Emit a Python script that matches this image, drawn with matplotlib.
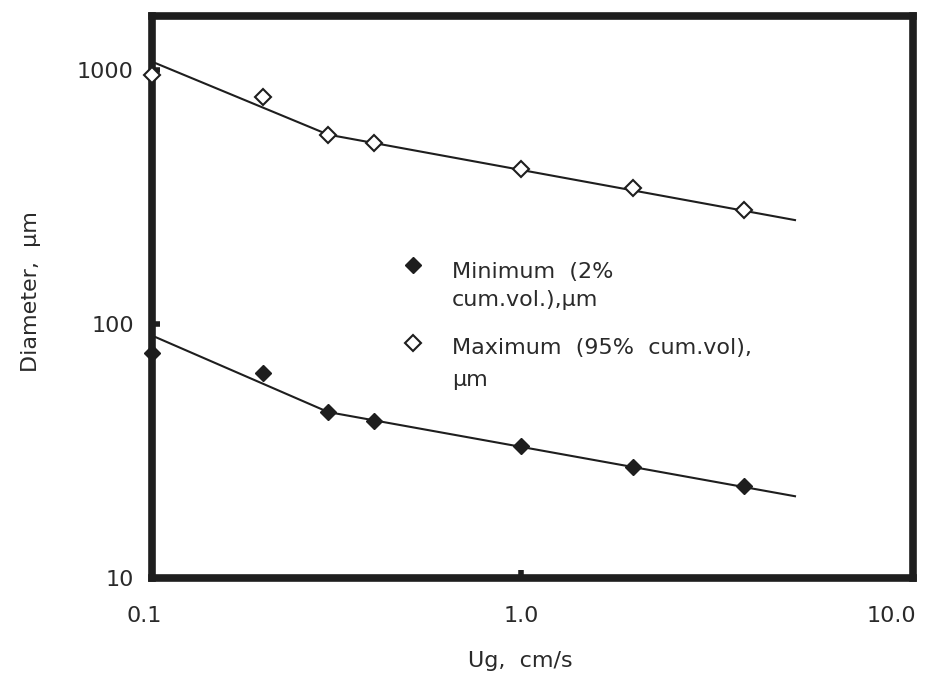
import matplotlib
matplotlib.use("Agg")
import matplotlib.pyplot as plt
import matplotlib.transforms as mtransforms
from matplotlib.ticker import FixedLocator, NullLocator

plt.rcParams['font.family'] = ['DejaVu Sans']

# superficial gas velocity, cm/s
ug = [0.1, 0.2, 0.3, 0.4, 1.0, 2.0, 4.0]
# bubble diameters, um
d_min = [77, 64, 45, 41.5, 33, 27.4, 23]
d_max = [950, 780, 555, 515, 405, 343, 280]

# fitted two-segment lines (break at 0.3 cm/s)
fit_x = [0.1, 0.3, 5.5]
fit_min = [90, 45, 21]
fit_max = [1075, 555, 256]

xticks = [0.1, 1.0, 10.0]
xtick_labels = ['0.1', '1.0', '10.0']
yticks = [10, 100, 1000]
ytick_labels = ['10', '100', '1000']

min_label = ['Minimum  (2%', 'cum.vol.),µm']
max_label = ['Maximum  (95%  cum.vol),', 'µm']

ink = '#1e1e1e'
txt = '#2a2a2a'
fs = 16

fig = plt.figure(figsize=(9.32, 6.81), dpi=100)
ax = fig.add_axes([0.163, 0.151, 0.817, 0.826])
ax.set_xscale('log')
ax.set_yscale('log')
ax.set_xlim(0.1, 11.5)
ax.set_ylim(10, 1630)

ax.plot(fit_x, fit_min, color=ink, lw=1.5, zorder=2)
ax.plot(fit_x, fit_max, color=ink, lw=1.5, zorder=2)
ax.plot(ug, d_min, 'D', ms=8, color=ink, mec=ink, zorder=3, clip_on=False)
ax.plot(ug, d_max, 'D', ms=8, mfc='white', mec=ink, mew=1.5, zorder=3,
        clip_on=False)

for s in ax.spines.values():
    s.set_linewidth(5.5)
    s.set_color(ink)

ax.xaxis.set_major_locator(FixedLocator(xticks))
ax.xaxis.set_minor_locator(NullLocator())
ax.yaxis.set_major_locator(FixedLocator(yticks))
ax.yaxis.set_minor_locator(NullLocator())
ax.set_xticklabels(xtick_labels)
ax.set_yticklabels(ytick_labels)
ax.tick_params(direction='in', length=6, width=4, color=ink, labelsize=fs,
               labelcolor=txt)
ax.tick_params(axis='x', pad=20)
ax.tick_params(axis='y', pad=13)
# only the inner decades carry a tick mark
ax.xaxis.get_major_ticks()[2].tick1line.set_visible(False)
ax.yaxis.get_major_ticks()[0].tick1line.set_visible(False)
# nudge the first x label a bit to the left of the frame corner
lbl = ax.get_xticklabels()[0]
lbl.set_transform(lbl.get_transform() +
                  mtransforms.ScaledTranslation(-0.08, 0, fig.dpi_scale_trans))

ax.set_xlabel('Ug,  cm/s', fontsize=fs, color=txt, va='center')
ax.xaxis.set_label_coords(0.484, -0.148)
ax.set_ylabel('Diameter,  µm', fontsize=fs, color=txt, va='center')
ax.yaxis.set_label_coords(-0.159, 0.51)

# key inside the plot
ax.plot([0.343], [0.557], 'D', ms=8, color=ink, transform=ax.transAxes)
ax.plot([0.343], [0.418], 'D', ms=8, mfc='white', mec=ink, mew=1.5,
        transform=ax.transAxes)
for line, y in zip(min_label, [0.534, 0.484]):
    ax.text(0.394, y, line, transform=ax.transAxes, fontsize=fs, color=txt,
            va='baseline', ha='left')
for line, y in zip(max_label, [0.398, 0.342]):
    ax.text(0.394, y, line, transform=ax.transAxes, fontsize=fs, color=txt,
            va='baseline', ha='left')

fig.savefig('out.png', dpi=100)
